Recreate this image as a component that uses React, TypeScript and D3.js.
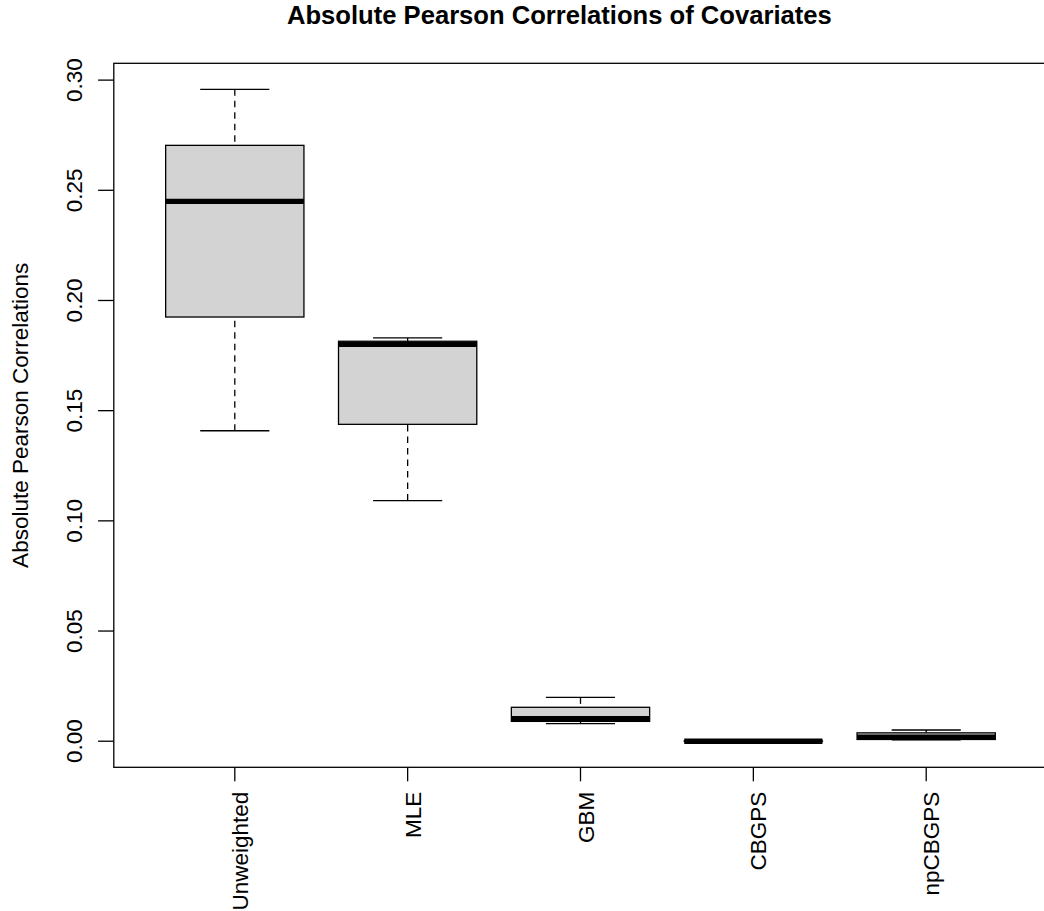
import React from "react";
import * as d3 from "d3";

// Summary statistics per weighting method (absolute Pearson correlations)
const categories = ["Unweighted", "MLE", "GBM", "CBGPS", "npCBGPS"];
const whiskerLow = [0.1409, 0.1092, 0.008, 0.0, 0.0006];
const lowerQuartile = [0.1925, 0.1438, 0.009, 0.0, 0.0008];
const medians = [0.245, 0.1801, 0.0103, 0.0, 0.0019];
const upperQuartile = [0.2704, 0.1815, 0.0154, 0.0001, 0.0038];
const whiskerHigh = [0.2958, 0.183, 0.0199, 0.0002, 0.0051];
const yTicks = [0.0, 0.05, 0.1, 0.15, 0.2, 0.25, 0.3];

const W = 1044;
const H = 911;
const FONT = "'Liberation Sans', Arial, sans-serif";
const FS = 22.5;

export default function App() {
  const n = categories.length;
  // R-style 4% axis extension
  const xPad = (n + 0.5 - 0.5) * 0.04;
  const x = d3
    .scaleLinear()
    .domain([0.5 - xPad, n + 0.5 + xPad])
    .range([113.8, 1047.2]);

  const dMin = d3.min(whiskerLow) as number;
  const dMax = d3.max(whiskerHigh) as number;
  const yPad = (dMax - dMin) * 0.04;
  const y = d3
    .scaleLinear()
    .domain([dMin - yPad, dMax + yPad])
    .range([767.3, 63.3]);

  const [x0, x1] = x.range();
  const [yb, yt] = y.range();
  const boxHalf = 0.4;
  const stapleHalf = 0.2;

  const boxes = categories.map((c, i) => ({
    name: c,
    pos: i + 1,
    lo: whiskerLow[i],
    q1: lowerQuartile[i],
    med: medians[i],
    q3: upperQuartile[i],
    hi: whiskerHigh[i],
  }));

  return (
    <svg
      width={W}
      height={H}
      viewBox={`0 0 ${W} ${H}`}
      style={{ position: "absolute", left: 0, top: 0, background: "#fff" }}
      fontFamily={FONT}
    >
      <rect x={0} y={0} width={W} height={H} fill="#fff" />

      {/* title */}
      <text x={287} y={23.5} fontSize={25.6} fontWeight="bold" fill="#000">
        Absolute Pearson Correlations of Covariates
      </text>

      {/* y-axis label */}
      <text
        transform={`translate(28,${(yb + yt) / 2}) rotate(-90)`}
        textAnchor="middle"
        fontSize={FS}
        fill="#000"
      >
        Absolute Pearson Correlations
      </text>

      {/* boxes */}
      {boxes.map((b) => {
        const cx = x(b.pos);
        const bl = x(b.pos - boxHalf);
        const br = x(b.pos + boxHalf);
        const sl = x(b.pos - stapleHalf);
        const sr = x(b.pos + stapleHalf);
        return (
          <g key={b.name}>
            <line
              x1={cx}
              x2={cx}
              y1={y(b.lo)}
              y2={y(b.q1)}
              stroke="#000"
              strokeWidth={1.3}
              strokeDasharray="6.5 5"
            />
            <line
              x1={cx}
              x2={cx}
              y1={y(b.hi)}
              y2={y(b.q3)}
              stroke="#000"
              strokeWidth={1.3}
              strokeDasharray="6.5 5"
            />
            <line x1={sl} x2={sr} y1={y(b.lo)} y2={y(b.lo)} stroke="#000" strokeWidth={1.3} />
            <line x1={sl} x2={sr} y1={y(b.hi)} y2={y(b.hi)} stroke="#000" strokeWidth={1.3} />
            <rect
              x={bl}
              y={y(b.q3)}
              width={br - bl}
              height={Math.max(0, y(b.q1) - y(b.q3))}
              fill="#d3d3d3"
              stroke="#000"
              strokeWidth={1.3}
            />
            <line
              x1={bl}
              x2={br}
              y1={y(b.med)}
              y2={y(b.med)}
              stroke="#000"
              strokeWidth={5.3}
            />
          </g>
        );
      })}

      {/* plot frame */}
      <rect
        x={x0}
        y={yt}
        width={x1 - x0}
        height={yb - yt}
        fill="none"
        stroke="#000"
        strokeWidth={1.3}
      />

      {/* y axis ticks and labels */}
      {yTicks.map((t) => (
        <g key={t}>
          <line x1={x0 - 15.7} x2={x0} y1={y(t)} y2={y(t)} stroke="#000" strokeWidth={1.3} />
          <text
            transform={`translate(82,${y(t)}) rotate(-90)`}
            textAnchor="middle"
            fontSize={FS}
            fill="#000"
          >
            {d3.format(".2f")(t)}
          </text>
        </g>
      ))}

      {/* x axis ticks and labels */}
      {boxes.map((b) => (
        <g key={`xt-${b.name}`}>
          <line
            x1={x(b.pos)}
            x2={x(b.pos)}
            y1={yb}
            y2={yb + 14}
            stroke="#000"
            strokeWidth={1.3}
          />
          <text
            transform={`translate(${x(b.pos) + 13},791.7) rotate(-90)`}
            textAnchor="end"
            fontSize={FS}
            fill="#000"
          >
            {b.name}
          </text>
        </g>
      ))}
    </svg>
  );
}
